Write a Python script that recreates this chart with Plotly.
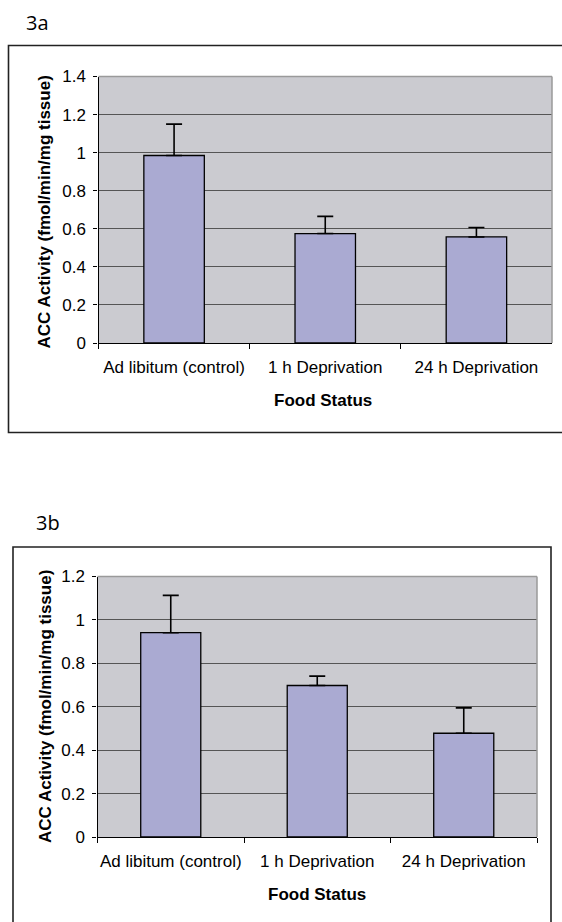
import plotly.graph_objects as go

# ---- data ----
categories = ["Ad libitum (control)", "1 h Deprivation", "24 h Deprivation"]
values_3a = [0.985, 0.575, 0.557]
errors_3a = [0.165, 0.090, 0.050]
values_3b = [0.941, 0.698, 0.478]
errors_3b = [0.172, 0.043, 0.117]
y_ticks_3a = [0, 0.2, 0.4, 0.6, 0.8, 1.0, 1.2, 1.4]
y_ticks_3b = [0, 0.2, 0.4, 0.6, 0.8, 1.0, 1.2]
panel_labels = ["3a", "3b"]
x_title = "Food Status"
y_title = "ACC Activity (fmol/min/mg tissue)"

# ---- styling ----
W, H = 562, 922
FONT = "Liberation Sans, Arial, sans-serif"
BAR = "#AAAAD2"
PLOT_BG = "#CBCBD0"
GRID = "#555555"
FS = 17


def px(x):
    return x / W


def py(y):
    return 1 - y / H


def tick_text(vals):
    return [f"{v:g}" for v in vals]


fig = go.Figure()

panels = [
    dict(vals=values_3a, errs=errors_3a, ticks=y_ticks_3a, xa="x", ya="y",
         left=98.5, right=552, top=76.5, bottom=343, width=0.40),
    dict(vals=values_3b, errs=errors_3b, ticks=y_ticks_3b, xa="x2", ya="y2",
         left=97.5, right=537, top=576.5, bottom=837, width=0.41),
]

for p in panels:
    fig.add_trace(go.Bar(
        x=categories, y=p["vals"], width=p["width"],
        marker=dict(color=BAR, line=dict(color="black", width=1.3)),
        error_y=dict(type="data", symmetric=False, array=p["errs"],
                     arrayminus=[0] * len(p["errs"]),
                     color="black", thickness=1.6, width=8),
        xaxis=p["xa"], yaxis=p["ya"], showlegend=False, hoverinfo="skip",
    ))

layout_axes = {}
for i, p in enumerate(panels):
    sfx = "" if i == 0 else str(i + 1)
    layout_axes["xaxis" + sfx] = dict(
        domain=[px(p["left"]), px(p["right"])], anchor="y" + sfx,
        type="category", range=[-0.5, 2.5], tickson="boundaries",
        ticks="outside", ticklen=5, tickcolor="black", tickwidth=1.2,
        showline=True, linecolor="black", linewidth=1.3,
        showgrid=False, zeroline=False, fixedrange=True,
        tickangle=0, automargin=False,
        tickfont=dict(family=FONT, size=FS, color="black"),
        ticklabelstandoff=8,
    )
    layout_axes["yaxis" + sfx] = dict(
        domain=[py(p["bottom"]), py(p["top"])], anchor="x" + sfx,
        range=[0, p["ticks"][-1]], tickvals=p["ticks"],
        ticktext=tick_text(p["ticks"]),
        ticks="outside", ticklen=4, tickcolor="black", tickwidth=1.2,
        showline=True, linecolor="black", linewidth=1.3,
        showgrid=True, gridcolor=GRID, gridwidth=1.2, zeroline=False,
        fixedrange=True, automargin=False,
        tickfont=dict(family=FONT, size=FS, color="black"),
        ticklabelstandoff=4,
    )

shapes = []
# grey top/right border of each plot area
for i, p in enumerate(panels):
    sfx = "" if i == 0 else str(i + 1)
    xr, yr = "x" + sfx + " domain", "y" + sfx + " domain"
    shapes.append(dict(type="line", xref=xr, yref=yr, x0=0, x1=1, y0=1, y1=1,
                       line=dict(color="#9A9A9A", width=1.5)))
    shapes.append(dict(type="line", xref=xr, yref=yr, x0=1, x1=1, y0=0, y1=1,
                       line=dict(color="#9A9A9A", width=1.5)))

# outer chart frames
shapes.append(dict(type="rect", xref="paper", yref="paper",
                   x0=px(8.5), x1=px(575), y0=py(432.5), y1=py(45.5),
                   line=dict(color="#222222", width=1.6)))
shapes.append(dict(type="rect", xref="paper", yref="paper",
                   x0=px(13), x1=px(551), y0=py(935), y1=py(547),
                   line=dict(color="#222222", width=1.6)))

annotations = [
    dict(text=panel_labels[0], xref="paper", yref="paper", x=px(24), y=py(22),
         xanchor="left", yanchor="middle", showarrow=False,
         font=dict(family="Open Sans, Noto Sans, sans-serif", size=20, color="black")),
    dict(text=panel_labels[1], xref="paper", yref="paper", x=px(34), y=py(522),
         xanchor="left", yanchor="middle", showarrow=False,
         font=dict(family="Open Sans, Noto Sans, sans-serif", size=20, color="black")),
    dict(text="<b>" + x_title + "</b>", xref="paper", yref="paper",
         x=px(323), y=py(400), xanchor="center", yanchor="middle",
         showarrow=False, font=dict(family=FONT, size=FS, color="black")),
    dict(text="<b>" + x_title + "</b>", xref="paper", yref="paper",
         x=px(317), y=py(894.5), xanchor="center", yanchor="middle",
         showarrow=False, font=dict(family=FONT, size=FS, color="black")),
    dict(text="<b>" + y_title + "</b>", xref="paper", yref="paper",
         x=px(43.5), y=py(212), xanchor="center", yanchor="middle",
         textangle=-90, showarrow=False,
         font=dict(family=FONT, size=FS, color="black")),
    dict(text="<b>" + y_title + "</b>", xref="paper", yref="paper",
         x=px(45), y=py(707), xanchor="center", yanchor="middle",
         textangle=-90, showarrow=False,
         font=dict(family=FONT, size=FS, color="black")),
]

fig.update_layout(
    width=W, height=H,
    margin=dict(l=0, r=0, t=0, b=0, autoexpand=False),
    paper_bgcolor="white", plot_bgcolor=PLOT_BG,
    showlegend=False, bargap=0.6,
    shapes=shapes, annotations=annotations,
    **layout_axes,
)

fig.write_html(
    "out.html",
    config={"displayModeBar": False},
    post_script="document.body.style.margin='0';document.body.style.overflow='hidden';",
)
